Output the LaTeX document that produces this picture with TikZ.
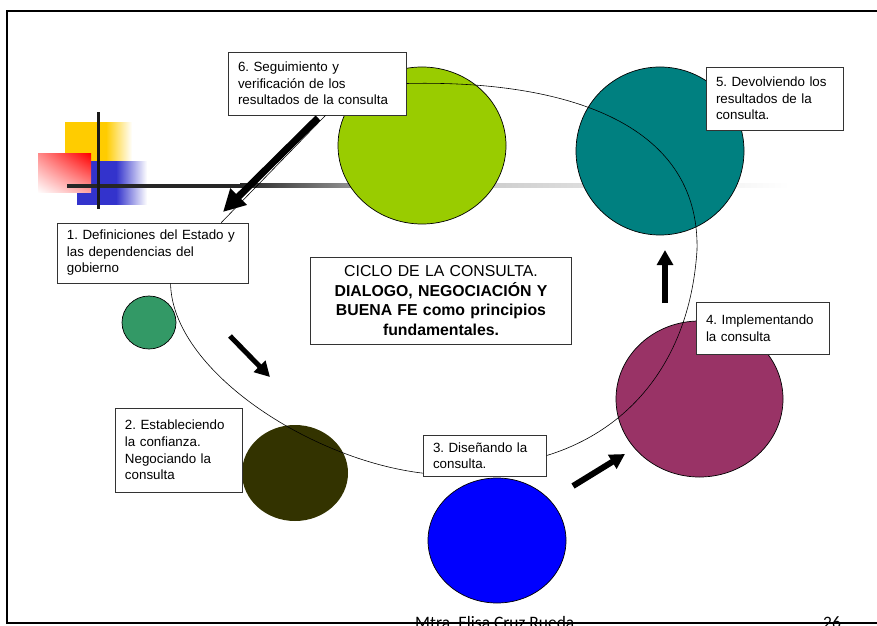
\documentclass[tikz,border=0pt]{standalone}
\usepackage{fontspec}
\setmainfont{Liberation Sans}
\newfontfamily\pie{Carlito}
\usetikzlibrary{arrows.meta,shapes.geometric,shadings}
\frenchspacing
\definecolor{verdelima}{HTML}{99CC00}
\definecolor{azulverde}{HTML}{008080}
\definecolor{morado}{HTML}{993366}
\definecolor{azulfuerte}{HTML}{0000FF}
\definecolor{olivo}{HTML}{333300}
\definecolor{verdemar}{HTML}{339966}
\definecolor{amarillo}{HTML}{FFCC00}
\definecolor{azullogo}{HTML}{3333CC}

\begin{document}
\begin{tikzpicture}[x=0.03cm,y=-0.03cm,
  caja/.style={draw=black!80,line width=0.7pt,fill=white,inner xsep=0.28cm,inner ysep=0pt,
    align=left,font=\fontsize{11.4}{14.1}\selectfont},
  bola/.style={ellipse,draw=black,line width=0.6pt,inner sep=0pt,outer sep=0pt},
  ciclo/.style={draw=black,line width=0.5pt},
  flecha/.style={line width=0.18cm,-{Triangle[length=0.45cm,width=0.47cm]}},
  pie/.style={font=\pie\fontsize{14.9}{18}\selectfont,anchor=base west,inner sep=0pt}]
  \useasboundingbox (0,0) rectangle (877,626);

  % logo
  \fill[amarillo] (65,122) rectangle (106,161);
  \shade[left color=amarillo,right color=white] (106,123) rectangle (132,161);
  \fill[azullogo] (77,161) rectangle (116,205);
  \shade[left color=azullogo,right color=white] (116,162) rectangle (147,205);
  \shade[upper right=red,upper left=red!45,lower left=white,lower right=red!35] (38,154) rectangle (91,193);
  \fill[black!85] (67,184) rectangle (240,188);
  \shade[left color=black!85,right color=black!25] (240,184) rectangle (400,188);
  \shade[left color=black!25,right color=white] (400,184) rectangle (790,188);
  \fill[black!90] (97,112) rectangle (100,209);

  % circulos
  \node[bola,fill=verdelima,minimum width=5.04cm,minimum height=4.71cm] (c6) at (422,145.5) {};
  \node[bola,fill=azulverde,minimum width=5.04cm,minimum height=5.04cm] (c5) at (660,151) {};
  \node[bola,fill=morado,minimum width=5.01cm,minimum height=4.68cm] (c4) at (699.5,399) {};
  \node[bola,fill=azulfuerte,minimum width=4.14cm,minimum height=3.75cm] (c3) at (497,540.5) {};
  \node[bola,draw=none,fill=olivo,minimum width=3.18cm,minimum height=2.88cm] (c2) at (295,473) {};
  \node[bola,fill=verdemar,minimum width=1.62cm,minimum height=1.59cm] (c1) at (149,322.5) {};

  % cajas
  \node[caja,text width=4.77cm,minimum height=1.89cm] (seg) at (317.5,83.5)
    {6. Seguimiento y\\verificación de los\\resultados de la consulta};
  \node[caja,text width=5.16cm,minimum height=1.8cm] (def) at (153,253)
    {1. Definiciones del Estado y\\las dependencias del\\gobierno};
  \node[caja,text width=3.24cm,minimum height=2.52cm] (est) at (179,450)
    {2. Estableciendo\\la confianza.\\Negociando la\\consulta};
  \node[caja,text width=3.12cm,minimum height=1.23cm] (dis) at (485,455.5)
    {3. Diseñando la\\consulta.};
  \node[caja,text width=3.42cm,minimum height=1.56cm] (imp) at (763,328)
    {4. Implementando\\la consulta};
  \node[caja,text width=3.54cm,minimum height=1.89cm] (dev) at (775,98.5)
    {5. Devolviendo los\\resultados de la\\consulta.};

  % ciclo
  \draw[ciclo] (def.-60.5) .. controls (172,370) and (310,460) .. (dis.196.9);
  \draw[ciclo] (dis.east) .. controls (630,430) and (690,360) .. (697,250)
    .. controls (700,120) and (560,80) .. (seg.east);
  \draw[ciclo] (seg.-76.6) -- (def.24.8);

  \node[caja,align=center,text width=7.26cm,minimum height=2.61cm,
    font=\fontsize{13.5}{16.6}\selectfont] (ciclo) at (441,300.5)
    {CICLO DE LA CONSULTA.\\\textbf{DIALOGO, NEGOCIACIÓN Y}\\\textbf{BUENA FE como principios}\\\textbf{fundamentales.}};

  % flechas
  \coordinate (f1a) at (318,118);
  \coordinate (f1b) at (223,212);
  \coordinate (f2a) at (230,336);
  \coordinate (f2b) at (270,377);
  \coordinate (f3a) at (573,486);
  \coordinate (f3b) at (625,454);
  \coordinate (f4a) at (665,303);
  \coordinate (f4b) at (665,250);
  \draw[flecha,line width=0.21cm,-{Triangle[length=0.66cm,width=0.66cm]}] (f1a) -- (f1b);
  \draw[flecha,line width=0.15cm] (f2a) -- (f2b);
  \draw[flecha] (f3a) -- (f3b);
  \draw[flecha] (f4a) -- (f4b);

  % pie
  \node[pie] (autora) at (415,628) {Mtra. Elisa Cruz Rueda};
  \node[pie] (pagina) at (823,628) {26};
  \draw[line width=1.3pt] (880,11) -- (7,11) -- (7,623) -- (880,623);
\end{tikzpicture}
\end{document}
